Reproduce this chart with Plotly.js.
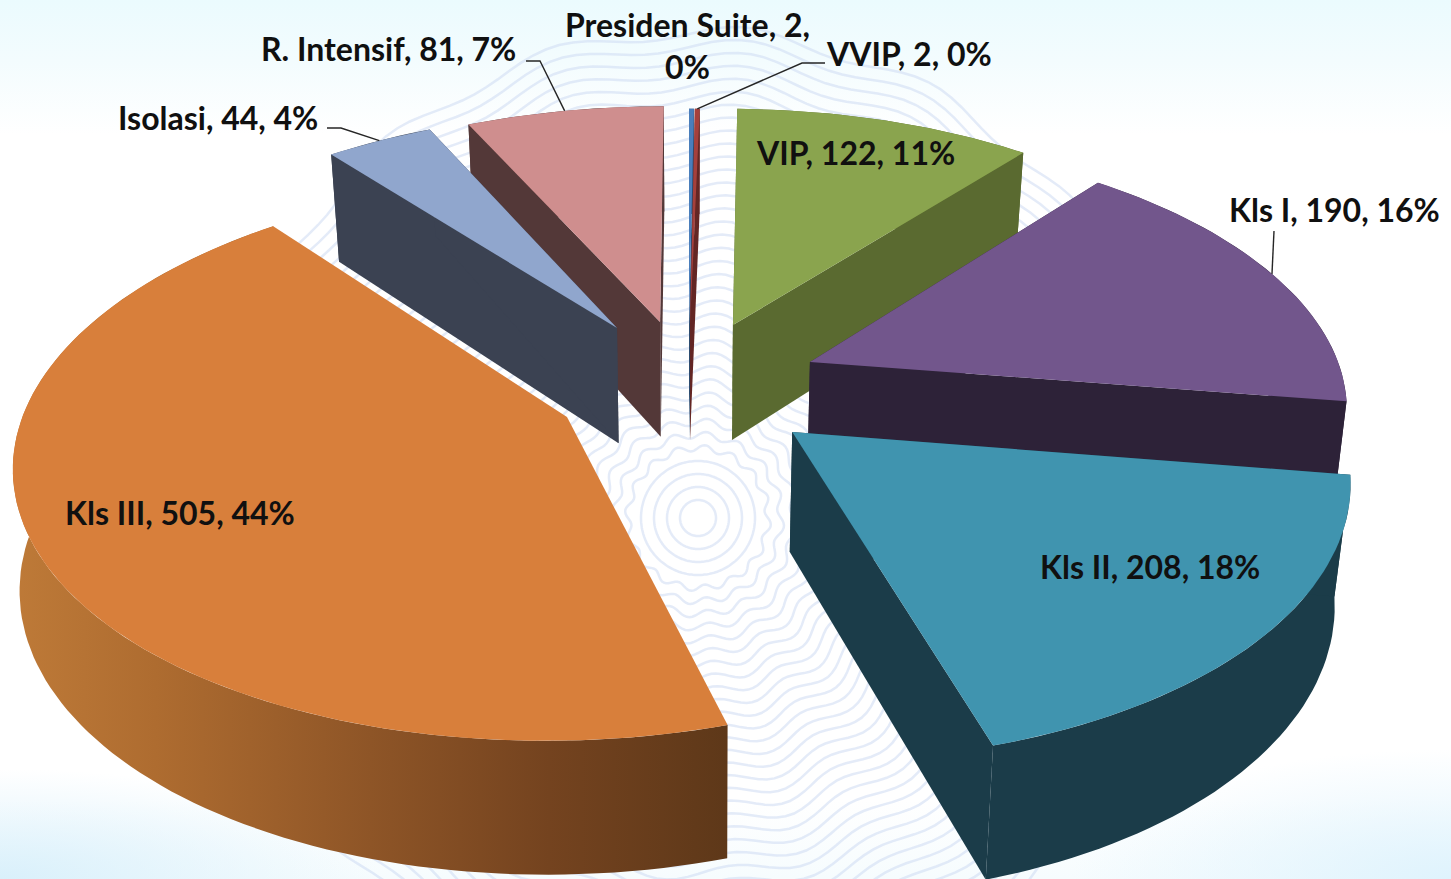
<!DOCTYPE html>
<html><head><meta charset="utf-8">
<script src="https://cdn.plot.ly/plotly-3.0.1.min.js"></script>
<style>
html,body{margin:0;padding:0;width:1451px;height:879px;overflow:hidden;
background:
 radial-gradient(ellipse 380px 130px at 100% 100%, #dff3fd 0%, rgba(223,243,253,0) 100%),
 radial-gradient(ellipse 380px 110px at 0% 100%, #d9f0fb 0%, rgba(217,240,251,0) 100%),
 linear-gradient(to bottom,#ebfbfe 0,#f3fcfe 60px,#ffffff 135px,#ffffff 800px,#f6fcfe 879px);}
#chart{width:1451px;height:879px}
</style></head><body><div id="chart"></div>
<script>
// ---- data ----
const categories = ["Presiden Suite","VVIP","VIP","Kls I","Kls II","Kls III","Isolasi","R. Intensif"];
const values     = [2,2,122,190,208,505,44,81];

// ---- styles ----
const topColors  = ["#4A7EBB","#A5403C","#8AA44E","#72568C","#4094AF","#D87F3B","#90A6CD","#CF8E8E"];
const sideColors = ["#2C4C70","#632624","#5A6A30","#2D2238","#1B3C49","#8E5527","#3B4252","#533838"];
const pullX      = [0,0.002,0.085,0.229,0.188,-0.224,-0.139,-0.056];
const pullV      = [-0.196,-0.196,-0.196,-0.05,0.211,0.157,-0.184,-0.209];
const lean       = [0.022,0.022,0.022,0.022,0.024,0.010,0.022,0.022];
const drawOrder  = [0,1,7,6,2,3,4,5];
const labelX = [687,909,855,1334,1150,180,218,388];
const labelY = [45.5,53,152,209,566,512,117,48];
const leaders = {1:[[825,63],[802,63]],3:[[1274,231]],6:[[327,128],[341,128]],7:[[526,61],[540,61]]};

// ---- projection of the tilted pie onto the page ----
const cx=689,cy=375,A=532,B=262,k=0.148;
const project=(X,v)=>{const s=1/(1-k*v);return [cx+A*X*s,cy+B*v*s];};
const drop=(p,l)=>{const h=115+(p[1]-325)*19/418;return [p[0]+(cx-p[0])*l,p[1]+h];};
const total=values.reduce((a,b)=>a+b,0);
const rad=d=>d*Math.PI/180;
let acc=0;
const slices=values.map((val,i)=>{const a0=acc/total*360;acc+=val;const a1=acc/total*360;
  const ax=pullX[i],av=pullV[i];
  const at=d=>project(ax+Math.sin(rad(d)),av-Math.cos(rad(d)));
  const n=Math.max(2,Math.ceil((a1-a0)/1.5));
  const arc=[];for(let j=0;j<=n;j++)arc.push(at(a0+(a1-a0)*j/n));
  return {i,a0,a1,apex:project(ax,av),arc,at};
});

const traces=[];
const poly=(pts,color,extra)=>{const xs=pts.map(p=>p[0]).concat(pts[0][0]),ys=pts.map(p=>p[1]).concat(pts[0][1]);
  traces.push(Object.assign({type:"scatter",mode:"lines",x:xs,y:ys,fill:"toself",fillcolor:color,line:{width:0,color:color},hoverinfo:"skip",showlegend:false},extra||{}));};

drawOrder.forEach(i=>{const s=slices[i];const c=sideColors[i];
  const low=s.arc.map(p=>drop(p,lean[i]));
  const wall=s.arc.concat(low.slice().reverse());
  const extra=i===5?{fillgradient:{type:"horizontal",colorscale:[[0,"#BE7A38"],[0.2,"#AE6C30"],[0.5,"#8E5527"],[0.75,"#74431F"],[1,"#5E3819"]]}}:{};
  poly(wall,c,extra);
  if(i!==5){
    poly([s.apex,s.arc[0],low[0],drop(s.apex,lean[i])],c);
    poly([s.apex,s.arc[s.arc.length-1],low[low.length-1],drop(s.apex,lean[i])],c);
  }
  poly([s.apex].concat(s.arc),topColors[i]);
});

// leader lines run from the label to the middle of the slice's rim
Object.keys(leaders).forEach(key=>{const i=+key,s=slices[i];
  const end=s.at((s.a0+s.a1)/2);
  const pts=leaders[i].concat([end]);
  traces.push({type:"scatter",mode:"lines",x:pts.map(p=>p[0]),y:pts.map(p=>p[1]),line:{color:"#262626",width:1.4},hoverinfo:"skip",showlegend:false});
});

const annotations=categories.map((c,i)=>{
  const pct=Math.round(values[i]/total*100)+"%";
  const text=i===0?`<b>${c}, ${values[i]},<br>${pct}</b>`:`<b>${c}, ${values[i]}, ${pct}</b>`;
  return {x:labelX[i],y:labelY[i],xref:"x",yref:"y",text,showarrow:false,xanchor:"center",yanchor:"middle",align:"center",
    font:{family:"Lato, 'Open Sans', sans-serif",size:32,color:"#101010"}};
});

// faint guilloche rings of the slide background
const rings=[];
for(let r=18;r<=490;r+=13){
  const amp=r<60?0:Math.min(7,2+r/60);let d="";
  for(let j=0;j<=220;j++){const t=j/220*2*Math.PI;
    const rr=r+amp*Math.sin(16*t);
    d+=(j?"L":"M")+(698+rr*Math.cos(t)).toFixed(1)+" "+(518+rr*Math.sin(t)).toFixed(1);}
  rings.push({type:"path",path:d+"Z",layer:"below",line:{color:"rgba(205,218,242,0.55)",width:2.5}});
}

Plotly.newPlot("chart",traces,{
  width:1451,height:879,margin:{l:0,r:0,t:0,b:0},
  paper_bgcolor:"rgba(0,0,0,0)",plot_bgcolor:"rgba(0,0,0,0)",showlegend:false,
  xaxis:{range:[0,1451],visible:false,fixedrange:true},
  yaxis:{range:[879,0],visible:false,fixedrange:true},
  annotations,shapes:rings
},{displayModeBar:false,staticPlot:true});
</script></body></html>
